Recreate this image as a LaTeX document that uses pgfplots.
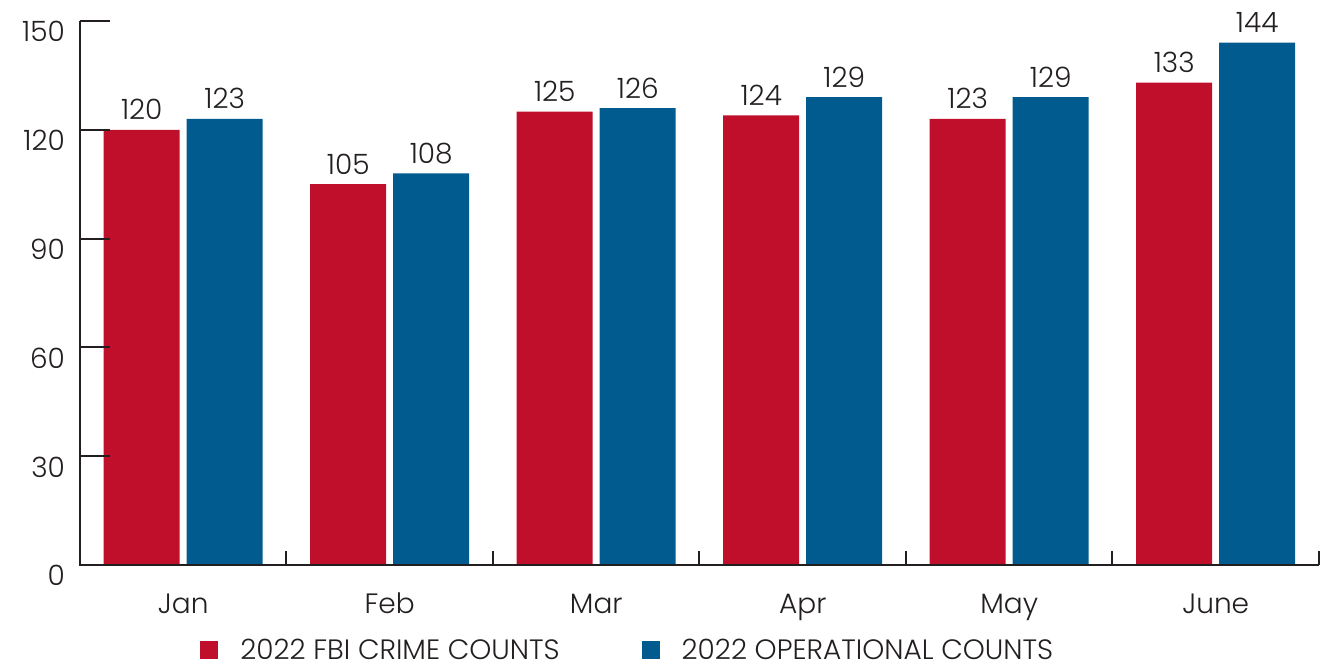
\documentclass[border=0pt]{standalone}
\usepackage{fontspec}
\setmainfont{Poppins Light}
\usepackage{pgfplots}
\pgfplotsset{compat=1.18}
\definecolor{cred}{HTML}{C00F2A}
\definecolor{cblue}{HTML}{025B8E}
\definecolor{axc}{HTML}{231F20}
\begin{document}
\begin{tikzpicture}
\useasboundingbox (-40pt,-51pt) rectangle (624pt,282.5pt);
\begin{axis}[
  at={(0,0)}, anchor=south west,
  width=619.5pt, height=272pt, scale only axis,
  xmin=-0.5, xmax=5.5, ymin=0, ymax=150,
  axis line style={draw=none},
  xtick pos=bottom, ytick pos=left,
  every tick/.style={draw=none},
  ytick={0,30,...,150},
  major tick length=15pt,
  xtick={0,...,5}, xticklabels={Jan,Feb,Mar,Apr,May,June},
  minor tick length=7pt,
  /pgf/number format/assume math mode=true,
  tick label style={font=\fontsize{14}{16}\selectfont, text=axc},
  yticklabel style={anchor=base east, xshift=-4pt, yshift=-10.5pt},
  xticklabel style={anchor=base, yshift=-9.5pt},
  ybar=3.5pt, bar width=38pt,
  nodes near coords,
  every node near coord/.append style={font=\fontsize{14}{16}\selectfont, text=axc, anchor=base, yshift=5pt},
  legend columns=2,
  legend style={draw=none, fill=none, at={(0.0969,-0.157)}, anchor=west, inner sep=0pt,
    font=\fontsize{14}{16}\selectfont, text=axc,
    /tikz/every odd column/.append style={column sep=9pt},
    /tikz/every even column/.append style={column sep=39pt}},
  legend image code/.code={\fill[#1] (0pt,-4.5pt) rectangle (9pt,4.5pt);},
  clip=false,
]
\addplot[fill=cred, draw=none] coordinates {(0,120) (1,105) (2,125) (3,124) (4,123) (5,133)};
\addplot[fill=cblue, draw=none] coordinates {(0,123) (1,108) (2,126) (3,129) (4,129) (5,144)};
\legend{2022 FBI CRIME COUNTS, 2022 OPERATIONAL COUNTS}
\draw[axc, line width=1pt] (rel axis cs:0,1) -- (rel axis cs:0,0) -- (rel axis cs:1,0);
\pgfplotsinvokeforeach{30,60,90,120,150}{
  \draw[axc, line width=1pt] (axis cs:-0.5,#1) -- ([xshift=15pt]axis cs:-0.5,#1);
}
\pgfplotsinvokeforeach{-0.5,0.5,1.5,2.5,3.5,4.5,5.5}{
  \draw[axc, line width=1pt] (axis cs:#1,0) -- ([yshift=7pt]axis cs:#1,0);
}
\end{axis}
\end{tikzpicture}
\end{document}
